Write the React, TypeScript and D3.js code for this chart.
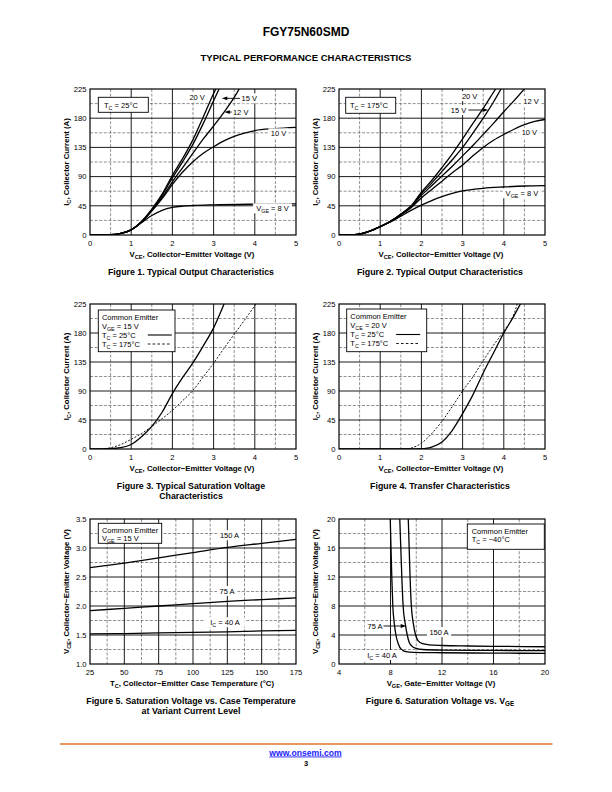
import React from "react";
import * as d3 from "d3";

type Pt = [number, number];
type Seg = string | { sub: string };

const FONT = "'Liberation Sans', Arial, Helvetica, sans-serif";

// ---------------- Figure 1: Output characteristics, Tc = 25°C ----------------
const f1Vge20: Pt[] = [[0,0],[0.5,0.5],[0.75,2.5],[1,8],[1.25,21],[1.5,40],[1.75,63],[2,92],[2.25,118],[2.5,147],[2.75,182],[3,218],[3.06,226]];
const f1Vge15: Pt[] = [[0,0],[0.5,0.5],[0.75,2.5],[1,8],[1.25,20],[1.5,39],[1.75,61],[2,88],[2.25,113],[2.5,140],[2.75,172],[3,207],[3.14,226]];
const f1Vge12: Pt[] = [[0,0],[0.5,0.5],[0.75,2.5],[1,8],[1.25,20],[1.5,38],[1.75,58],[2,82],[2.25,104],[2.5,126],[2.75,148],[3,168],[3.25,189],[3.5,212],[3.63,226]];
const f1Vge10: Pt[] = [[0,0],[0.5,0.5],[0.75,2.5],[1,8],[1.25,20],[1.5,37],[1.75,56],[2,78],[2.25,97],[2.5,113],[2.75,126],[3,136],[3.25,145],[3.5,152],[3.75,157],[4,161],[4.5,164],[5,166]];
const f1Vge8: Pt[] = [[0,0],[0.5,0.5],[0.75,2.5],[1,8],[1.25,19],[1.5,30],[1.75,38],[2,42.5],[2.25,44.5],[2.5,45.5],[3,46.5],[4,47.5],[5,48]];

// ---------------- Figure 2: Output characteristics, Tc = 175°C ----------------
const f2Vge20: Pt[] = [[0,0],[0.25,0.2],[0.5,1.5],[0.75,6],[1,13],[1.25,21],[1.5,32],[1.75,45],[2,66],[2.25,84],[2.5,104],[2.75,125],[3,148],[3.25,172],[3.5,195],[3.75,220],[3.81,226]];
const f2Vge15: Pt[] = [[0,0],[0.25,0.2],[0.5,1.5],[0.75,6],[1,13],[1.25,21],[1.5,32],[1.75,44],[2,64],[2.25,80],[2.5,98],[2.75,116],[3,135],[3.25,157],[3.5,180],[3.75,205],[3.94,226]];
const f2Vge12: Pt[] = [[0,0],[0.25,0.2],[0.5,1.5],[0.75,6],[1,13],[1.25,21],[1.5,32],[1.75,43],[2,61],[2.25,76],[2.5,91],[2.75,106],[3,122],[3.25,138],[3.5,155],[3.75,172],[4,190],[4.25,207],[4.51,226]];
const f2Vge10: Pt[] = [[0,0],[0.25,0.2],[0.5,1.5],[0.75,6],[1,13],[1.25,21],[1.5,31],[1.75,42],[2,57],[2.25,70],[2.5,83],[2.75,96],[3,108],[3.25,122],[3.5,135],[3.75,146],[4,155],[4.25,163],[4.5,170],[4.75,175],[5,178]];
const f2Vge8: Pt[] = [[0,0],[0.25,0.2],[0.5,1.5],[0.75,6],[1,13],[1.25,20],[1.5,29],[1.75,38],[2,46],[2.25,53],[2.5,59],[2.75,64],[3,68],[3.5,72],[4,74],[4.5,75.5],[5,76]];

// ---------------- Figure 3: Saturation voltage, VGE = 15 V ----------------
const f3Tc25: Pt[] = [[0,0],[0.5,0.5],[0.75,2],[1,7],[1.25,19],[1.5,35],[1.75,57],[2,86],[2.25,111],[2.5,134],[2.75,160],[3,188],[3.26,226]];
const f3Tc175: Pt[] = [[0,0],[0.25,0.3],[0.5,2],[0.75,7],[1,15],[1.25,24],[1.5,35],[1.75,47],[2,60],[2.25,75],[2.5,91],[2.75,112],[3,133],[3.25,156],[3.5,178],[3.75,200],[4.04,226]];

// ---------------- Figure 4: Transfer characteristics, VCE = 20 V ----------------
const f4Tc25: Pt[] = [[0,0],[1,0],[1.75,0],[2,0.5],[2.1,1],[2.25,3],[2.5,11],[2.75,29],[3,55],[3.25,84],[3.5,118],[3.75,149],[4,180],[4.25,207],[4.41,226]];
const f4Tc175: Pt[] = [[0,0],[1,0],[1.5,0],[1.65,0.5],[1.75,1.5],[2,9],[2.25,24],[2.5,43],[2.75,66],[3,90],[3.25,112],[3.5,137],[3.75,161],[4,183],[4.25,210],[4.33,226]];

// ---------------- Figure 5: VCE(sat) vs case temperature ----------------
const f5Ic150: Pt[] = [[25,2.66],[50,2.74],[75,2.83],[100,2.92],[125,3.01],[150,3.08],[175,3.15]];
const f5Ic75: Pt[] = [[25,1.92],[50,1.96],[75,2.0],[100,2.04],[125,2.08],[150,2.11],[175,2.14]];
const f5Ic40: Pt[] = [[25,1.52],[50,1.525],[75,1.535],[100,1.545],[125,1.555],[150,1.57],[175,1.58]];

// ---------------- Figure 6: VCE vs VGE, Tc = -40°C ----------------
const f6Ic40: Pt[] = [[7.98,20],[8.04,16],[8.1,12],[8.18,8],[8.3,5.5],[8.42,4],[8.6,2.8],[8.85,2.0],[9.2,1.7],[9.8,1.6],[12,1.55],[16,1.5],[20,1.47]];
const f6Ic75: Pt[] = [[8.72,20],[8.8,16],[8.88,12],[8.98,8],[9.15,5.5],[9.3,4],[9.45,3],[9.7,2.4],[10,2.15],[10.5,2.0],[12,1.92],[16,1.87],[20,1.84]];
const f6Ic150: Pt[] = [[9.38,20],[9.45,16],[9.52,12],[9.62,8],[9.78,5.5],[9.95,4],[10.15,3.2],[10.5,2.8],[11,2.65],[12,2.55],[14,2.48],[16,2.44],[20,2.38]];

// ---------------- axes ----------------
const vceTicks = [0, 1, 2, 3, 4, 5];
const vceMajor = [1, 2, 3, 4];
const vceMinor = [0.5, 1.5, 2.5, 3.5, 4.5];
const icTicks = [0, 45, 90, 135, 180, 225];
const icMajor = [45, 90, 135, 180];
const icMinor = [22.5, 67.5, 112.5, 157.5, 202.5];
const tempTicks = [25, 50, 75, 100, 125, 150, 175];
const tempMajor = [50, 75, 100, 125, 150];
const tempMinor = [37.5, 62.5, 87.5, 112.5, 137.5, 162.5];
const vsatTicks = [1.0, 1.5, 2.0, 2.5, 3.0, 3.5];
const vsatMajor = [1.5, 2.0, 2.5, 3.0];
const vsatMinor = [1.25, 1.75, 2.25, 2.75, 3.25];
const vgeTicks = [4, 8, 12, 16, 20];
const vgeMajor = [8, 12, 16];
const vgeMinor = [6, 10, 14, 18];
const vce6Ticks = [0, 4, 8, 12, 16, 20];
const vce6Major = [4, 8, 12, 16];
const vce6Minor = [2, 6, 10, 14, 18];

// ---------------- text helpers ----------------
function Rich({ segs, fs }: { segs: Seg[]; fs: number }) {
  const els: any[] = [];
  let down = false;
  segs.forEach((s, i) => {
    if (typeof s === "string") {
      els.push(
        <tspan key={i} dy={down ? -fs * 0.28 : undefined}>
          {s}
        </tspan>
      );
      down = false;
    } else {
      els.push(
        <tspan key={i} dy={fs * 0.28} fontSize={fs * 0.72}>
          {s.sub}
        </tspan>
      );
      down = true;
    }
  });
  return <>{els}</>;
}

function estWidth(segs: Seg[], fs: number) {
  let w = 0;
  segs.forEach((s) => {
    if (typeof s === "string") w += s.length * fs * 0.54;
    else w += s.sub.length * fs * 0.72 * 0.6;
  });
  return w;
}

type Series = { data: Pt[]; dashed?: boolean };
type Label = { x: number; y: number; segs: Seg[]; anchor?: "start" | "middle" | "end" };
type Arrow = { x1: number; x2: number; y: number };
type LegendLine = { segs: Seg[]; sample?: "solid" | "dashed" };
type Legend = { dx: number; dy: number; w: number; h: number; tx: number; lines: LegendLine[]; lineY: number[] };

type ChartProps = {
  id: string;
  left: number; right: number; top: number; bottom: number;
  xDomain: [number, number]; yDomain: [number, number];
  xTicks: number[]; yTicks: number[];
  xMajor: number[]; xMinor: number[]; yMajor: number[]; yMinor: number[];
  yFmt?: (v: number) => string;
  xTitle: Seg[]; yTitle: Seg[]; caption: Seg[][];
  series: Series[];
  labels: Label[];
  arrows?: Arrow[];
  legend: Legend;
};

const FS_TICK = 7.6;
const FS_TITLE = 7.8;
const FS_CAP = 8.8;
const FS_LAB = 7.5;

function Chart(p: ChartProps) {
  const x = d3.scaleLinear().domain(p.xDomain).range([p.left, p.right]);
  const y = d3.scaleLinear().domain(p.yDomain).range([p.bottom, p.top]);
  const line = d3
    .line<Pt>()
    .x((d) => x(d[0]))
    .y((d) => y(d[1]))
    .curve(d3.curveMonotoneX);
  const clipId = `clip-${p.id}`;
  const cx = (p.left + p.right) / 2;
  const cy = (p.top + p.bottom) / 2;
  const yFmt = p.yFmt || ((v: number) => String(v));
  const lg = p.legend;
  return (
    <g fontFamily={FONT} fill="#000">
      <defs>
        <clipPath id={clipId}>
          <rect x={p.left} y={p.top} width={p.right - p.left} height={p.bottom - p.top} />
        </clipPath>
      </defs>
      {/* minor grid */}
      <g stroke="#444" strokeWidth={0.6} strokeDasharray="3,1.6">
        {p.xMinor.map((v) => (
          <line key={"xm" + v} x1={x(v)} x2={x(v)} y1={p.top} y2={p.bottom} />
        ))}
        {p.yMinor.map((v) => (
          <line key={"ym" + v} x1={p.left} x2={p.right} y1={y(v)} y2={y(v)} />
        ))}
      </g>
      {/* major grid */}
      <g stroke="#000" strokeWidth={0.9}>
        {p.xMajor.map((v) => (
          <line key={"xM" + v} x1={x(v)} x2={x(v)} y1={p.top} y2={p.bottom} />
        ))}
        {p.yMajor.map((v) => (
          <line key={"yM" + v} x1={p.left} x2={p.right} y1={y(v)} y2={y(v)} />
        ))}
      </g>
      {/* curves */}
      <g clipPath={`url(#${clipId})`} fill="none" stroke="#000">
        {p.series.map((s, i) => (
          <path
            key={i}
            d={line(s.data) || ""}
            strokeWidth={s.dashed ? 0.9 : 1.3}
            strokeDasharray={s.dashed ? "2,1.6" : undefined}
          />
        ))}
      </g>
      {/* frame */}
      <rect x={p.left} y={p.top} width={p.right - p.left} height={p.bottom - p.top} fill="none" stroke="#000" strokeWidth={1.2} />
      {/* tick labels */}
      <g fontSize={FS_TICK}>
        {p.xTicks.map((v) => (
          <text key={"xt" + v} x={x(v)} y={p.bottom + 11} textAnchor="middle">
            {String(v)}
          </text>
        ))}
        {p.yTicks.map((v) => (
          <text key={"yt" + v} x={p.left - 3.5} y={y(v) + 2.8} textAnchor="end">
            {yFmt(v)}
          </text>
        ))}
      </g>
      {/* axis titles */}
      <text x={cx - 1} y={p.bottom + 21.5} textAnchor="middle" fontSize={FS_TITLE} fontWeight="bold">
        <Rich segs={p.xTitle} fs={FS_TITLE} />
      </text>
      <text
        transform={`translate(${p.left - 21.5},${cy}) rotate(-90)`}
        textAnchor="middle"
        fontSize={FS_TITLE}
        fontWeight="bold"
      >
        <Rich segs={p.yTitle} fs={FS_TITLE} />
      </text>
      {/* caption */}
      {p.caption.map((c, i) => (
        <text key={"cap" + i} x={cx - 2} y={p.bottom + 39.5 + i * 10.5} textAnchor="middle" fontSize={FS_CAP} fontWeight="bold">
          <Rich segs={c} fs={FS_CAP} />
        </text>
      ))}
      {/* legend box */}
      <g>
        <rect x={p.left + lg.dx} y={p.top + lg.dy} width={lg.w} height={lg.h} fill="#fff" stroke="#000" strokeWidth={0.9} />
        {lg.lines.map((l, i) => (
          <g key={"lg" + i}>
            <text x={p.left + lg.dx + lg.tx} y={p.top + lg.dy + lg.lineY[i]} fontSize={FS_LAB}>
              <Rich segs={l.segs} fs={FS_LAB} />
            </text>
            {l.sample && (
              <line
                x1={p.left + lg.dx + 49.5}
                x2={p.left + lg.dx + 73.5}
                y1={p.top + lg.dy + lg.lineY[i] - 2.5}
                y2={p.top + lg.dy + lg.lineY[i] - 2.5}
                stroke="#000"
                strokeWidth={l.sample === "solid" ? 1.1 : 0.9}
                strokeDasharray={l.sample === "dashed" ? "2.6,2.2" : undefined}
              />
            )}
          </g>
        ))}
      </g>
      {/* curve labels */}
      {p.labels.map((l, i) => {
        const w = estWidth(l.segs, FS_LAB);
        const anchor = l.anchor || "middle";
        const lx = x(l.x);
        const bx = anchor === "middle" ? lx - w / 2 : anchor === "start" ? lx : lx - w;
        return (
          <g key={"lb" + i}>
            <rect x={bx - 2} y={y(l.y) - 5} width={w + 4} height={10} fill="#fff" />
            <text x={lx} y={y(l.y) + 2.7} textAnchor={anchor} fontSize={FS_LAB}>
              <Rich segs={l.segs} fs={FS_LAB} />
            </text>
          </g>
        );
      })}
      {(p.arrows || []).map((a, i) => {
        const x1 = x(a.x1);
        const x2 = x(a.x2);
        const yy = y(a.y);
        const dir = x2 > x1 ? 1 : -1;
        return (
          <g key={"ar" + i}>
            <line x1={x1} x2={x2 - dir * 3} y1={yy} y2={yy} stroke="#000" strokeWidth={0.9} />
            <path d={`M${x2},${yy}L${x2 - dir * 5.5},${yy - 1.9}L${x2 - dir * 5.5},${yy + 1.9}Z`} fill="#000" />
          </g>
        );
      })}
    </g>
  );
}

const vceTitle: Seg[] = ["V", { sub: "CE" }, ", Collector\u2212Emitter Voltage (V)"];
const icTitle: Seg[] = ["I", { sub: "C" }, ", Collector Current (A)"];

export default function App() {
  const f1 = (v: number) => v.toFixed(1);
  return (
    <svg
      width={612}
      height={792}
      viewBox="0 0 612 792"
      style={{ position: "absolute", left: 0, top: 0, background: "#fff" }}
    >
      <rect x={0} y={0} width={612} height={792} fill="#fff" />
      <text x={306} y={36} textAnchor="middle" fontFamily={FONT} fontSize={12} fontWeight="bold">
        FGY75N60SMD
      </text>
      <text x={306} y={60.5} textAnchor="middle" fontFamily={FONT} fontSize={9.5} fontWeight="bold">
        TYPICAL PERFORMANCE CHARACTERISTICS
      </text>

      <Chart
        id="c1"
        left={90} right={296} top={89} bottom={235}
        xDomain={[0, 5]} yDomain={[0, 225]}
        xTicks={vceTicks} yTicks={icTicks}
        xMajor={vceMajor} xMinor={vceMinor} yMajor={icMajor} yMinor={icMinor}
        xTitle={vceTitle} yTitle={icTitle}
        caption={[["Figure 1. Typical Output Characteristics"]]}
        series={[{ data: f1Vge20 }, { data: f1Vge15 }, { data: f1Vge12 }, { data: f1Vge10 }, { data: f1Vge8 }]}
        labels={[
          { x: 2.6, y: 212.6, segs: ["20 V"] },
          { x: 3.68, y: 210.6, segs: ["15 V"], anchor: "start" },
          { x: 3.47, y: 189.5, segs: ["12 V"], anchor: "start" },
          { x: 4.575, y: 156.7, segs: ["10 V"] },
          { x: 4.43, y: 41.1, segs: ["V", { sub: "GE" }, " = 8 V"] },
        ]}
        arrows={[
          { x1: 3.64, x2: 3.2, y: 210.6 },
          { x1: 3.44, x2: 3.26, y: 189.5 },
        ]}
        legend={{ dx: 8.3, dy: 8.3, w: 50, h: 15, tx: 5.7, lineY: [10.2], lines: [{ segs: ["T", { sub: "C" }, " = 25\u00b0C"] }] }}
      />

      <Chart
        id="c2"
        left={339} right={545} top={89} bottom={235}
        xDomain={[0, 5]} yDomain={[0, 225]}
        xTicks={vceTicks} yTicks={icTicks}
        xMajor={vceMajor} xMinor={vceMinor} yMajor={icMajor} yMinor={icMinor}
        xTitle={vceTitle} yTitle={icTitle}
        caption={[["Figure 2. Typical Output Characteristics"]]}
        series={[{ data: f2Vge20 }, { data: f2Vge15 }, { data: f2Vge12 }, { data: f2Vge10 }, { data: f2Vge8 }]}
        labels={[
          { x: 3.17, y: 214, segs: ["20 V"] },
          { x: 2.9, y: 192.6, segs: ["15 V"] },
          { x: 4.66, y: 206.5, segs: ["12 V"] },
          { x: 4.62, y: 157.6, segs: ["10 V"] },
          { x: 4.44, y: 64.3, segs: ["V", { sub: "GE" }, " = 8 V"] },
        ]}
        arrows={[{ x1: 3.14, x2: 3.62, y: 192.6 }]}
        legend={{ dx: 6.7, dy: 8.3, w: 50, h: 16, tx: 4.3, lineY: [10.7], lines: [{ segs: ["T", { sub: "C" }, " = 175\u00b0C"] }] }}
      />

      <Chart
        id="c3"
        left={90} right={296} top={304} bottom={449}
        xDomain={[0, 5]} yDomain={[0, 225]}
        xTicks={vceTicks} yTicks={icTicks}
        xMajor={vceMajor} xMinor={vceMinor} yMajor={icMajor} yMinor={icMinor}
        xTitle={vceTitle} yTitle={icTitle}
        caption={[["Figure 3. Typical Saturation Voltage"], ["Characteristics"]]}
        series={[{ data: f3Tc25 }, { data: f3Tc175, dashed: true }]}
        labels={[]}
        legend={{
          dx: 8.3, dy: 6, w: 76.7, h: 41.7, tx: 3.6, lineY: [9.5, 18.5, 27.5, 36.5],
          lines: [
            { segs: ["Common Emitter"] },
            { segs: ["V", { sub: "GE" }, " = 15 V"] },
            { segs: ["T", { sub: "C" }, " = 25\u00b0C"], sample: "solid" },
            { segs: ["T", { sub: "C" }, " = 175\u00b0C"], sample: "dashed" },
          ],
        }}
      />

      <Chart
        id="c4"
        left={339} right={545} top={304} bottom={449}
        xDomain={[0, 5]} yDomain={[0, 225]}
        xTicks={vceTicks} yTicks={icTicks}
        xMajor={vceMajor} xMinor={vceMinor} yMajor={icMajor} yMinor={icMinor}
        xTitle={vceTitle} yTitle={icTitle}
        caption={[["Figure 4. Transfer Characteristics"]]}
        series={[{ data: f4Tc25 }, { data: f4Tc175, dashed: true }]}
        labels={[]}
        legend={{
          dx: 7.7, dy: 5, w: 80, h: 42.7, tx: 3.6, lineY: [10, 19, 28, 37],
          lines: [
            { segs: ["Common Emitter"] },
            { segs: ["V", { sub: "CE" }, " = 20 V"] },
            { segs: ["T", { sub: "C" }, " = 25\u00b0C"], sample: "solid" },
            { segs: ["T", { sub: "C" }, " = 175\u00b0C"], sample: "dashed" },
          ],
        }}
      />

      <Chart
        id="c5"
        left={90} right={296} top={519} bottom={664}
        xDomain={[25, 175]} yDomain={[1, 3.5]}
        xTicks={tempTicks} yTicks={vsatTicks}
        xMajor={tempMajor} xMinor={tempMinor} yMajor={vsatMajor} yMinor={vsatMinor}
        yFmt={f1}
        xTitle={["T", { sub: "C" }, ", Collector\u2212Emitter Case Temperature (\u00b0C)"]}
        yTitle={vceTitle}
        caption={[["Figure 5. Saturation Voltage vs. Case Temperature"], ["at Variant Current Level"]]}
        series={[{ data: f5Ic150 }, { data: f5Ic75 }, { data: f5Ic40 }]}
        labels={[
          { x: 126.6, y: 3.22, segs: ["150 A"] },
          { x: 124.8, y: 2.26, segs: ["75 A"] },
          { x: 123.3, y: 1.72, segs: ["I", { sub: "C" }, " = 40 A"] },
        ]}
        legend={{
          dx: 8.3, dy: 4.3, w: 63.4, h: 20, tx: 3.6, lineY: [9.2, 17.7],
          lines: [{ segs: ["Common Emitter"] }, { segs: ["V", { sub: "GE" }, " = 15 V"] }],
        }}
      />

      <Chart
        id="c6"
        left={339} right={545} top={519} bottom={664}
        xDomain={[4, 20]} yDomain={[0, 20]}
        xTicks={vgeTicks} yTicks={vce6Ticks}
        xMajor={vgeMajor} xMinor={vgeMinor} yMajor={vce6Major} yMinor={vce6Minor}
        xTitle={["V", { sub: "GE" }, ", Gate\u2212Emitter Voltage (V)"]}
        yTitle={vceTitle}
        caption={[["Figure 6. Saturation Voltage vs. V", { sub: "GE" }]]}
        series={[{ data: f6Ic40 }, { data: f6Ic75 }, { data: f6Ic150 }]}
        labels={[
          { x: 6.8, y: 5.24, segs: ["75 A"] },
          { x: 11.77, y: 4.41, segs: ["150 A"] },
          { x: 7.34, y: 1.24, segs: ["I", { sub: "C" }, " = 40 A"] },
        ]}
        arrows={[{ x1: 7.45, x2: 9.22, y: 5.24 }]}
        legend={{
          dx: 128.3, dy: 5, w: 77, h: 25.3, tx: 4.4, lineY: [9.5, 18.2],
          lines: [{ segs: ["Common Emitter"] }, { segs: ["T", { sub: "C" }, " = \u221240\u00b0C"] }],
        }}
      />

      {/* footer */}
      <line x1={60} x2={552.5} y1={744} y2={744} stroke="#D9792E" strokeWidth={1.7} />
      <a href="http://www.onsemi.com">
        <text x={305.5} y={755.5} textAnchor="middle" fontFamily={FONT} fontSize={8.6} fontWeight="bold" fill="#1a1aff" textDecoration="underline">
          www.onsemi.com
        </text>
      </a>
      <text x={306} y={765.5} textAnchor="middle" fontFamily={FONT} fontSize={7.5} fontWeight="bold">
        3
      </text>
    </svg>
  );
}
